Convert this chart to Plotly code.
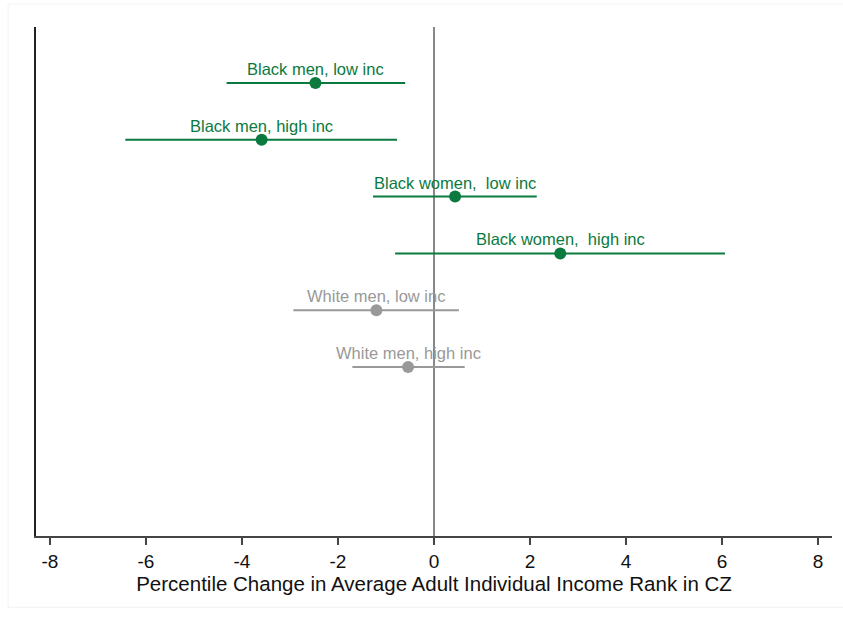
import plotly.graph_objects as go

labels = ["Black men, low inc", "Black men, high inc", "Black women,  low inc",
          "Black women,  high inc", "White men, low inc", "White men, high inc"]
estimates = [-2.47, -3.59, 0.44, 2.63, -1.20, -0.54]
ci_low = [-4.32, -6.43, -1.27, -0.81, -2.93, -1.70]
ci_high = [-0.60, -0.77, 2.14, 6.06, 0.52, 0.64]
rows = [6, 5, 4, 3, 2, 1]
groups = ["black", "black", "black", "black", "white", "white"]
tick_vals = [-8, -6, -4, -2, 0, 2, 4, 6, 8]
tick_text = ["-8", "-6", "-4", "-2", "0", "2", "4", "6", "8"]

colors = {"black": "#0b7a3e", "white": "#999999"}

fig = go.Figure()
for lab, est, lo, hi, r, g in zip(labels, estimates, ci_low, ci_high, rows, groups):
    c = colors[g]
    fig.add_trace(go.Scatter(x=[lo, hi], y=[r, r], mode="lines",
                             line=dict(color=c, width=2), showlegend=False, hoverinfo="skip"))
    fig.add_trace(go.Scatter(x=[est], y=[r], mode="markers",
                             marker=dict(color=c, size=12), showlegend=False))
    fig.add_annotation(x=est, y=r, text=lab, showarrow=False, yshift=14,
                       yanchor="middle", xanchor="center",
                       font=dict(color=c, size=16.5, family="Liberation Sans, Arial"))

fig.add_shape(type="line", x0=0, x1=0, y0=0, y1=1, xref="x", yref="paper",
              line=dict(color="#888888", width=2), layer="below")
fig.add_shape(type="rect", x0=-0.035, x1=1.02, y0=-0.14, y1=1.045, xref="paper", yref="paper",
              line=dict(color="#f2f2f2", width=1))

fig.update_layout(
    width=843, height=620,
    margin=dict(l=36, r=11, t=27, b=84),
    plot_bgcolor="white", paper_bgcolor="white",
    font=dict(family="Liberation Sans, Arial", color="#111111"),
    xaxis=dict(range=[-8.29, 8.29], tickvals=tick_vals, ticktext=tick_text,
               ticks="outside", ticklen=7,
               tickcolor="#444444", tickwidth=1.5, showgrid=False, zeroline=False,
               showline=True, linecolor="#444444", linewidth=1.5,
               tickfont=dict(size=19, color="#111111"),
               title=dict(text="Percentile Change in Average Adult Individual Income Rank in CZ",
                          font=dict(size=20.5, color="#111111"), standoff=4)),
    yaxis=dict(range=[-1.975, 6.986], showticklabels=False, ticks="", showgrid=False,
               zeroline=False, showline=True, linecolor="#222222", linewidth=1.5),
)

fig.write_html("out.html")
